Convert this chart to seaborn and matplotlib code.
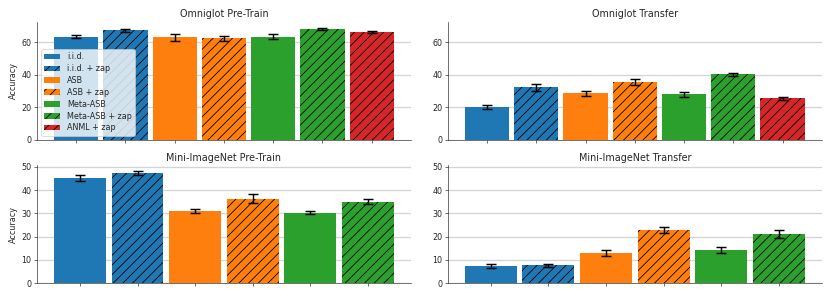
import numpy as np
import pandas as pd
import matplotlib
matplotlib.use('Agg')
import matplotlib.pyplot as plt
from matplotlib.patches import Patch
import seaborn as sns

# Data
methods_omni = ["i.i.d.", "i.i.d. + zap", "ASB", "ASB + zap",
                "Meta-ASB", "Meta-ASB + zap", "ANML + zap"]
methods_mini = methods_omni[:6]

omni_pre = [63.5, 67.2, 62.9, 62.5, 63.5, 68.2, 66.4]
omni_pre_err = [1.0, 1.2, 2.4, 1.5, 1.4, 0.8, 0.5]
omni_tr = [20.2, 32.2, 28.5, 35.5, 28.0, 40.2, 25.4]
omni_tr_err = [1.4, 2.3, 1.5, 2.0, 1.5, 0.8, 1.0]
mini_pre = [45.4, 47.4, 31.0, 36.3, 30.3, 35.0]
mini_pre_err = [1.3, 0.8, 0.9, 1.9, 0.6, 1.1]
mini_tr = [7.3, 7.6, 13.0, 22.8, 14.1, 21.0]
mini_tr_err = [0.8, 0.7, 1.3, 1.4, 1.3, 1.8]

titles = ["Omniglot Pre-Train", "Omniglot Transfer",
          "Mini-ImageNet Pre-Train", "Mini-ImageNet Transfer"]

pal = sns.color_palette("tab10")
colors = [pal[0], pal[0], pal[1], pal[1], pal[2], pal[2], pal[3]]
hatches = ["", "//", "", "//", "", "//", "//"]

sns.set_style("ticks")
plt.rcParams['font.family'] = ['DejaVu Sans']
plt.rcParams['hatch.color'] = 'black'
plt.rcParams['hatch.linewidth'] = 1.0

DPI = 58
fig, axes = plt.subplots(2, 2, figsize=(830 / DPI, 297 / DPI), dpi=DPI, sharey='row')
fig.subplots_adjust(left=0.0446, right=0.99, top=0.926, bottom=0.047,
                    wspace=0.099, hspace=0.22)

panels = [
    (axes[0, 0], methods_omni, omni_pre, omni_pre_err),
    (axes[0, 1], methods_omni, omni_tr, omni_tr_err),
    (axes[1, 0], methods_mini, mini_pre, mini_pre_err),
    (axes[1, 1], methods_mini, mini_tr, mini_tr_err),
]

for (ax, methods, vals, errs), title in zip(panels, titles):
    n = len(methods)
    df = pd.DataFrame({"method": methods, "acc": vals})
    sns.barplot(data=df, x="method", y="acc", hue="method",
                palette=colors[:n], legend=False, errorbar=None,
                saturation=1, width=0.9, ax=ax)
    for p, h in zip(ax.patches, hatches[:n]):
        # hatch takes the edge colour, so black edge with zero width
        p.set_linewidth(0)
        if h:
            p.set_hatch(h)
            p.set_edgecolor("black")
    ax.errorbar(np.arange(n), vals, yerr=errs, fmt="none", ecolor="black",
                elinewidth=1.8, capsize=6, capthick=1.8, zorder=5)
    pad = 0.05 * (n - 1 + 0.9)
    ax.set_xlim(-0.45 - pad, n - 1 + 0.45 + pad)
    ax.set_xticks(np.arange(n))
    ax.set_xticklabels([])
    ax.set_xlabel("")
    ax.set_ylabel("Accuracy")
    ax.set_title(title)
    ax.yaxis.grid(True, color="#d4d4d4", linewidth=1.6)
    ax.set_axisbelow(True)
    ax.tick_params(axis='y', labelleft=True)
    sns.despine(ax=ax)

handles = []
for m, c, h in zip(methods_omni, colors, hatches):
    handles.append(Patch(facecolor=c, edgecolor="black" if h else c,
                         hatch=h, linewidth=0, label=m))
axes[0, 0].legend(handles=handles, loc="lower left", labelspacing=0.35)

fig.savefig("out.png", dpi=DPI)
